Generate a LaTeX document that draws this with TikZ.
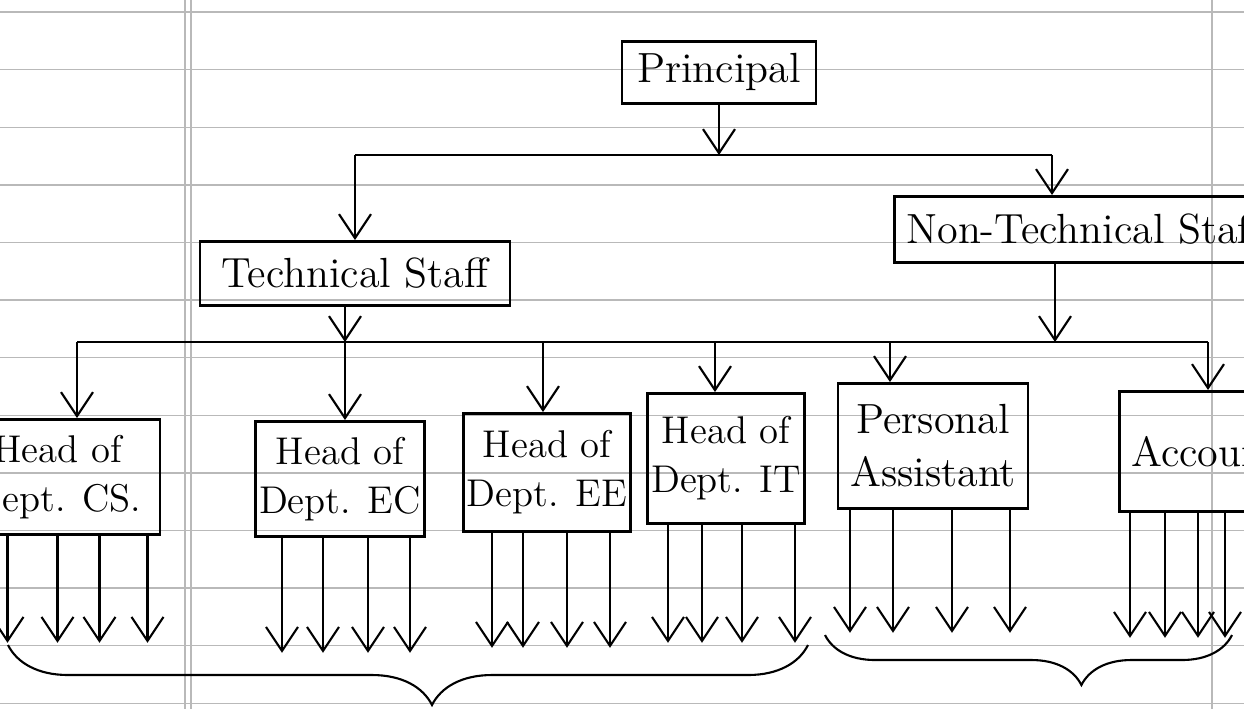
\documentclass[tikz,border=0pt]{standalone}
\usepackage{tikz}
\usetikzlibrary{arrows.meta}
\usetikzlibrary{decorations.pathreplacing}
\tikzset{
	orgnode/.style = {
		rectangle,
		draw=black,
		thick,
		align=center,
		inner xsep=1pt,
		anchor=north,
		font=\fontsize{12}{15}\selectfont
	},
	node_top/.style = {
		orgnode,
		minimum width=1.94cm,
		minimum height=0.62cm
	},
	node_staff/.style = {
		orgnode,
		minimum height=0.64cm
	},
	node_head/.style = {
		orgnode,
		font=\fontsize{11}{14}\selectfont,
		minimum height=1.15cm
	},
	node_side/.style = {
		orgnode,
		anchor=north west,
		inner xsep=0.12cm
	},
	paper_rule/.style = {
		-,
		gray!55,
		thin
	},
	bar/.style = {
		-,
		thick
	},
	group_brace/.style = {
		-,
		semithick,
		decorate
	}
}

\begin{document}
\begin{tikzpicture}[->, >={Straight Barb[length=2.4mm,width=3.2mm]}, semithick]
\useasboundingbox (0,0) rectangle (12.44,-7.09);
\clip (0,0) rectangle (12.44,-7.09);

\foreach \k in {0,...,12}
	\draw [paper_rule] (0,{-0.12-0.576*\k}) -- (12.44,{-0.12-0.576*\k});
\draw [paper_rule] (1.85,0) -- (1.85,-7.09);
\draw [paper_rule] (1.91,0) -- (1.91,-7.09);
\draw [paper_rule] (12.12,0) -- (12.12,-7.09);

\node [node_top] (principal) at (7.19,-0.40) {Principal};
\node [node_staff, minimum width=3.10cm] (tech) at (3.55,-2.40) {Technical Staff};
\node [node_side, minimum height=0.66cm] (nontech) at (8.93,-1.95) {Non-Technical Staff};

\node [node_head, minimum width=2.05cm] (hod_cs) at (0.575,-4.18) {Head of\\Dept. CS.};
\node [node_head, minimum width=1.52cm] (hod_ec) at (3.40,-4.20) {Head of\\Dept. EC};
\node [node_head, minimum width=1.34cm, minimum height=1.18cm] (hod_ee) at (5.47,-4.12) {Head of\\Dept. EE};
\node [node_head, minimum width=1.48cm, minimum height=1.30cm] (hod_it) at (7.26,-3.92) {Head of\\Dept. IT};
\node [orgnode, minimum width=1.90cm, minimum height=1.25cm] (pa) at (9.33,-3.82) {Personal\\Assistant};
\node [node_side, minimum height=1.20cm] (acct) at (11.18,-3.90) {Accountant};

\coordinate (b1_l) at (3.55,-1.55);
\coordinate (b1_r) at (10.52,-1.55);
\draw (principal.south) -- (principal.south |- b1_l);
\draw [bar] (b1_l) -- (b1_r);
\draw (b1_l) -- (tech.north);
\draw (b1_r) -- (b1_r |- nontech.north);

\coordinate (b2_cs) at (0.77,-3.42);
\coordinate (b2_ec) at (3.45,-3.42);
\coordinate (b2_ee) at (5.43,-3.42);
\coordinate (b2_it) at (7.15,-3.42);
\coordinate (b2_pa) at (8.90,-3.42);
\coordinate (b2_nt) at (10.55,-3.42);
\coordinate (b2_acct) at (12.08,-3.42);
\draw [bar] (b2_cs) -- (b2_acct);
\draw (tech.south -| b2_ec) -- (b2_ec);
\draw (nontech.south -| b2_nt) -- (b2_nt);
\draw (b2_cs) -- (b2_cs |- hod_cs.north);
\draw (b2_ec) -- (b2_ec |- hod_ec.north);
\draw (b2_ee) -- (b2_ee |- hod_ee.north);
\draw (b2_it) -- (b2_it |- hod_it.north);
\draw (b2_pa) -- (b2_pa |- pa.north);
\draw (b2_acct) -- (b2_acct |- acct.north);

\foreach \dx in {-0.50,0,0.42,0.90}
	\draw ([xshift=\dx cm]hod_cs.south) -- ++(0,-1.07);
\foreach \dx in {-0.58,-0.17,0.28,0.70}
	\draw ([xshift=\dx cm]hod_ec.south) -- ++(0,-1.15);
\foreach \dx in {-0.55,-0.24,0.20,0.63}
	\draw ([xshift=\dx cm]hod_ee.south) -- ++(0,-1.15);
\foreach \dx in {-0.58,-0.24,0.16,0.69}
	\draw ([xshift=\dx cm]hod_it.south) -- ++(0,-1.18);
\foreach \dx in {-0.83,-0.40,0.19,0.77}
	\draw ([xshift=\dx cm]pa.south) -- ++(0,-1.23);
\foreach \dx in {0.12,0.47,0.80,1.07}
	\draw ([xshift=\dx cm]acct.south west) -- ++(0,-1.25);

\coordinate (br1_l) at (0.08,-6.45);
\coordinate (br1_r) at (8.08,-6.45);
\coordinate (br2_l) at (8.25,-6.35);
\coordinate (br2_r) at (12.32,-6.35);
\draw [group_brace, decoration={brace, mirror, amplitude=0.6cm, aspect=0.53}] (br1_l) -- (br1_r);
\draw [group_brace, decoration={brace, mirror, amplitude=0.5cm, aspect=0.63}] (br2_l) -- (br2_r);
\end{tikzpicture}
\end{document}
